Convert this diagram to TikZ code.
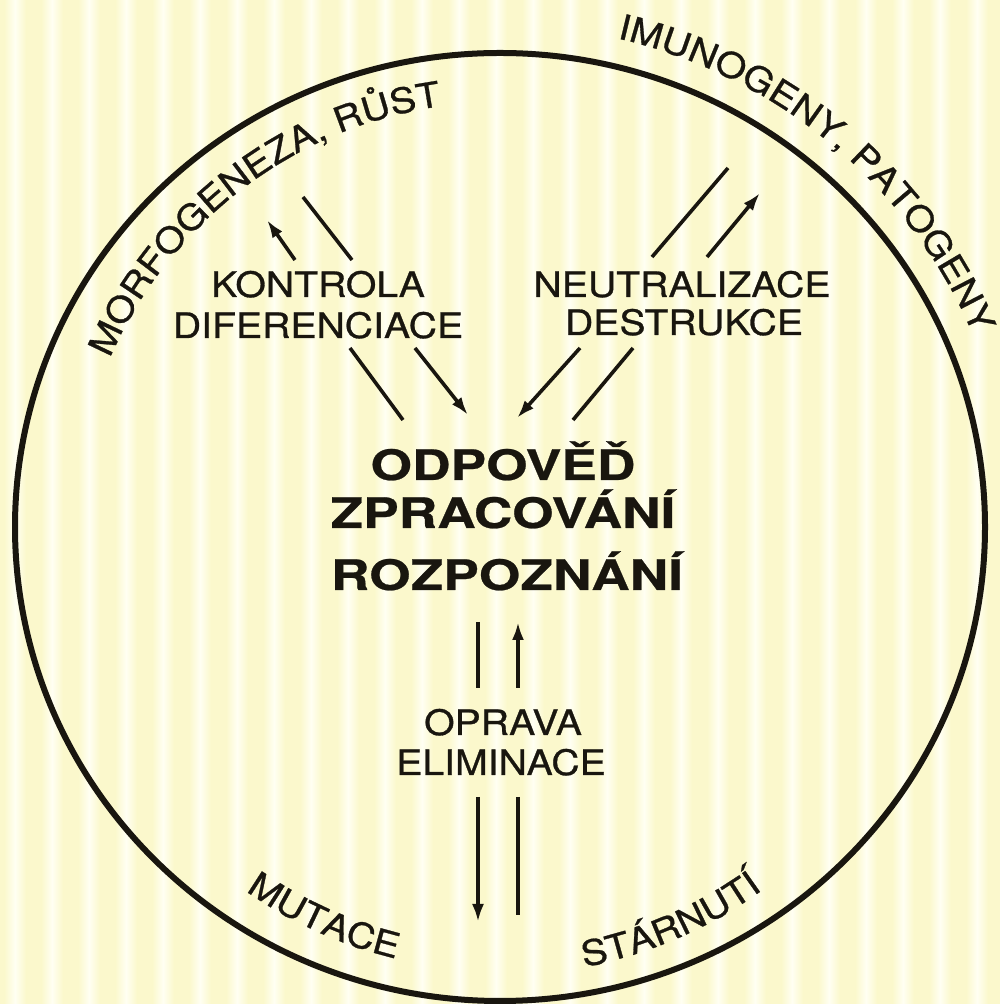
\documentclass[tikz,border=0pt]{standalone}
\usepackage{fontspec}
\setmainfont{TeX Gyre Heros}
\newfontfamily\regfont{TeX Gyre Heros}[FakeStretch=1.12,FakeBold=0.8]
\newfontfamily\bigfont{TeX Gyre Heros}[FakeStretch=1.27,FakeBold=0.6]
\usetikzlibrary{arrows.meta,decorations.text,calc}
\definecolor{bgY}{RGB}{251,248,204}
\definecolor{bgW}{RGB}{255,255,242}
\definecolor{ink}{RGB}{25,22,15}
\newcommand\curvefont{\regfont\fontsize{35}{35}\selectfont}
\begin{document}
\begin{tikzpicture}[x=1pt,y=1pt,
  lbl/.style={font=\regfont\fontsize{35}{35}\selectfont, text=ink, inner sep=0pt, anchor=base},
  big/.style={font=\bigfont\bfseries\fontsize{42}{42}\selectfont, text=ink, inner sep=0pt, anchor=base},
  arr/.style={line width=3.6pt, draw=ink, -{Latex[length=18pt,width=12pt]}},
  ln/.style={line width=3.6pt, draw=ink},
  curved/.style={decorate, decoration={text along path, text align=center, text color=ink, text={|\curvefont|#1}}}
]
\useasboundingbox (0,0) rectangle (1000,1004);
% background with vertical stripes
\fill[bgY] (0,0) rectangle (1000,1004);
\foreach \i in {0,...,27} {
  \shade[left color=bgY, right color=bgY, middle color=bgW] (\i*37+4,0) rectangle (\i*37+26,1004);
}
% circle
\coordinate (C) at (500,477);
\draw[line width=6pt, draw=ink] (C) ellipse[x radius=485, y radius=474];

% curved labels
\path[curved={MORFOGENEZA, RŮST}] ($(C)+(157.25:425)$) arc[start angle=157.25, end angle=97.25, radius=425];
\path[curved={IMUNOGENY, PATOGENY}] ($(C)+(79.6:512 and 502)$) arc[start angle=79.6, end angle=19.6, x radius=512, y radius=502];
\path[curved={MUTACE}] ($(C)+(229.75:444)$) arc[start angle=229.75, end angle=261.75, radius=444];
\path[curved={STÁRNUTÍ}] ($(C)+(277.35:448)$) arc[start angle=277.35, end angle=309.35, radius=448];

% labels
\node[lbl] (kon) at (318,707) {KONTROLA};
\node[lbl] (dif) at (318,666) {DIFERENCIACE};
\node[lbl] (neu) at (682,707) {NEUTRALIZACE};
\node[lbl] (des) at (684,669) {DESTRUKCE};
\node[big] (odp) at (503,524) {ODPOVĚĎ};
\node[big] (zpr) at (503,476) {ZPRACOVÁNÍ};
\node[big] (roz) at (507,414) {ROZPOZNÁNÍ};
\node[lbl] (opr) at (503,269) {OPRAVA};
\node[lbl] (eli) at (501,229) {ELIMINACE};

% arrow end points
\coordinate (a1s) at (295,744); \coordinate (a1e) at (267,784);
\coordinate (l1s) at (303,807); \coordinate (l1e) at (352,744);
\coordinate (l2s) at (350,656); \coordinate (l2e) at (403,584);
\coordinate (a2s) at (415,656); \coordinate (a2e) at (468,589);
\coordinate (a3s) at (580,656); \coordinate (a3e) at (517,586);
\coordinate (l3s) at (633,656); \coordinate (l3e) at (573,584);
\coordinate (l4s) at (652,747); \coordinate (l4e) at (728,836);
\coordinate (a4s) at (707,747); \coordinate (a4e) at (760,811);
\coordinate (l5s) at (478,382); \coordinate (l5e) at (478,316);
\coordinate (a5s) at (518,316); \coordinate (a5e) at (518,382);
\coordinate (a6s) at (478,207); \coordinate (a6e) at (478,82);
\coordinate (l6s) at (518,207); \coordinate (l6e) at (518,89);

\draw[arr] (a1s) -- (a1e);
\draw[ln] (l1s) -- (l1e);
\draw[ln] (l2s) -- (l2e);
\draw[arr] (a2s) -- (a2e);
\draw[arr] (a3s) -- (a3e);
\draw[ln] (l3s) -- (l3e);
\draw[ln] (l4s) -- (l4e);
\draw[arr] (a4s) -- (a4e);
\draw[ln] (l5s) -- (l5e);
\draw[arr] (a5s) -- (a5e);
\draw[arr] (a6s) -- (a6e);
\draw[ln] (l6s) -- (l6e);
\end{tikzpicture}
\end{document}
